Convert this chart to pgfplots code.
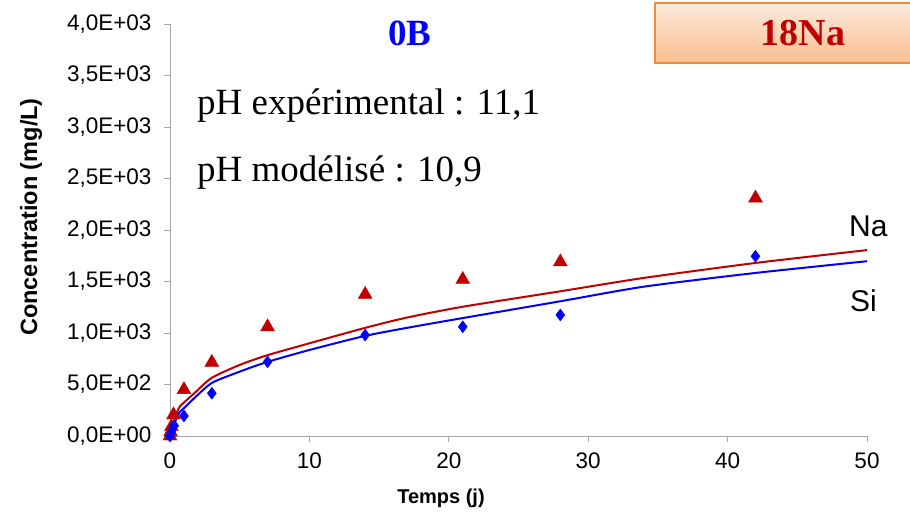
\documentclass[border=0pt]{standalone}
\usepackage{fontspec}
\setmainfont{Liberation Serif}
\newfontfamily\arial{Liberation Sans}
\usepackage{pgfplots}
\pgfplotsset{compat=1.18}

\definecolor{naRed}{HTML}{C00000}
\definecolor{siBlue}{HTML}{0000FF}
\definecolor{boxTop}{HTML}{FDEBDD}
\definecolor{boxBot}{HTML}{F9BE8F}
\definecolor{boxLine}{HTML}{EE8A3A}
\definecolor{axGray}{HTML}{A6A6A6}

\begin{document}
\begin{tikzpicture}[x=1pt,y=1pt]
\useasboundingbox (0,0) rectangle (910,517);

\begin{axis}[
  at={(170pt,81pt)}, anchor=origin,
  scale only axis, width=697pt, height=412pt,
  xmin=0, xmax=50, ymin=0, ymax=4000,
  clip=false,
  axis x line=bottom, axis y line=left,
  axis line style={-, axGray, line width=1pt},
  tick style={axGray, line width=0.9pt},
  tick align=outside, major tick length=6pt,
  xtick={0,10,20,30,40,50},
  xticklabels={0,10,20,30,40,50},
  ytick={0,500,1000,1500,2000,2500,3000,3500,4000},
  yticklabels={{0,0E+00},{5,0E+02},{1,0E+03},{1,5E+03},{2,0E+03},{2,5E+03},{3,0E+03},{3,5E+03},{4,0E+03}},
  ticklabel style={font=\arial\fontsize{22.5}{26}\selectfont},
  yticklabel style={xshift=-9pt},
  xticklabel style={yshift=-7pt},
]
% modelled concentrations
\addplot[naRed, line width=2pt, smooth, tension=0.4] coordinates {
  (0,0) (0.15,60) (0.3,150) (0.5,230) (0.7,285) (1,325) (1.7,410)
  (3,565) (5,690) (7,785) (10,900) (14,1050) (17,1150) (21,1255)
  (28,1405) (34,1535) (42,1680) (50,1805)};
\addplot[siBlue, line width=2pt, smooth, tension=0.4] coordinates {
  (0,0) (0.15,50) (0.3,120) (0.5,180) (0.7,234) (1,270) (1.7,362)
  (3,515) (5,625) (7,720) (10,835) (14,972) (17,1050) (21,1145)
  (28,1308) (34,1450) (42,1583) (50,1697)};
% measured concentrations
\addplot[only marks, mark=triangle*, mark size=8pt, color=naRed] coordinates {
  (0,0) (0.04,40) (0.1,90) (0.25,205) (1,450) (3,715) (7,1060)
  (14,1375) (21,1520) (28,1690) (42,2310)};
\addplot[only marks, mark=diamond*, mark size=6pt, color=siBlue] coordinates {
  (0,0) (0.1,40) (0.3,100) (1,195) (3,415) (7,720) (14,980)
  (21,1060) (28,1175) (42,1745)};
\end{axis}

% axis titles
\node[rotate=90, font=\arial\bfseries\fontsize{23.5}{27}\selectfont] at (31,300) {Concentration (mg/L)};
\node[font=\arial\bfseries\fontsize{20}{24}\selectfont] at (441,19) {Temps (j)};

% curve labels
\node[anchor=base west, inner sep=0, font=\arial\fontsize{30}{34}\selectfont] at (849,280) {Na};
\node[anchor=base west, inner sep=0, font=\arial\fontsize{30}{34}\selectfont] at (850,205) {Si};

% annotations
\node[anchor=base west, inner sep=0, font=\fontsize{37}{40}\selectfont] at (197,402) {pH expérimental : 11,1};
\node[anchor=base west, inner sep=0, font=\fontsize{37}{40}\selectfont] at (197,335) {pH modélisé : 10,9};
\node[text=siBlue, font=\bfseries\fontsize{37}{40}\selectfont] at (410,484) {0B};

\begin{scope}
  \clip (0,0) rectangle (910,517);
  \shade[top color=boxTop, bottom color=boxBot] (655,514) rectangle (916,454);
  \draw[boxLine, line width=1.8pt] (655,514) rectangle (916,454);
\end{scope}
\node[text=naRed, font=\bfseries\fontsize{38}{40}\selectfont] at (803,484) {18Na};
\end{tikzpicture}
\end{document}
